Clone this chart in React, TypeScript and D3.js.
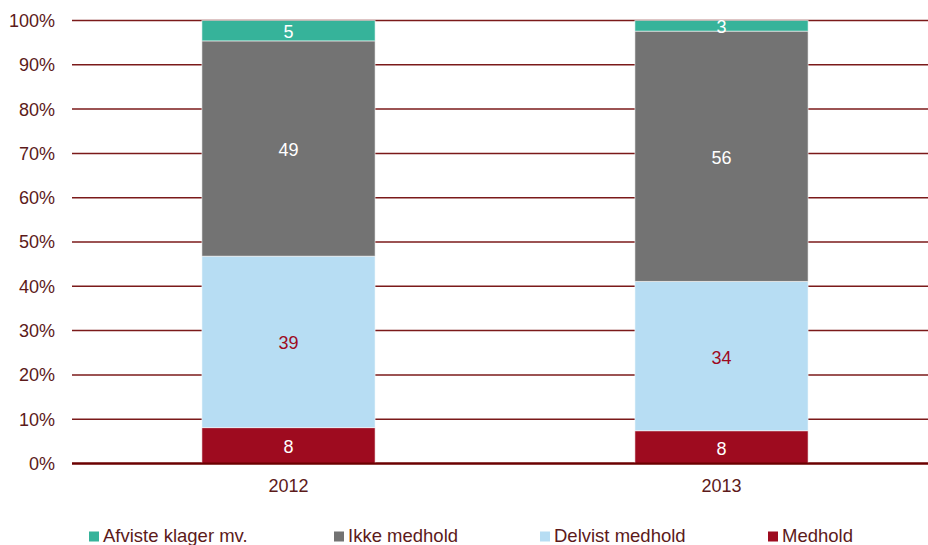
import React from "react";
import * as d3 from "d3";

const years = ["2012", "2013"];
const seriesNames = ["Medhold", "Delvist medhold", "Ikke medhold", "Afviste klager mv."];
const medhold = [8.1, 7.4];
const delvist = [38.7, 33.7];
const ikke = [48.6, 56.5];
const afviste = [4.6, 2.4];
const medholdLabels = ["8", "8"];
const delvistLabels = ["39", "34"];
const ikkeLabels = ["49", "56"];
const afvisteLabels = ["5", "3"];
const yTicks = [0, 10, 20, 30, 40, 50, 60, 70, 80, 90, 100];
const legendOrder = ["Afviste klager mv.", "Ikke medhold", "Delvist medhold", "Medhold"];

const colors: Record<string, string> = {
  "Medhold": "#9e0b1f",
  "Delvist medhold": "#b7ddf3",
  "Ikke medhold": "#737373",
  "Afviste klager mv.": "#36b39a",
};
const labelColors: Record<string, string> = {
  "Medhold": "#ffffff",
  "Delvist medhold": "#9e0b1f",
  "Ikke medhold": "#ffffff",
  "Afviste klager mv.": "#ffffff",
};

const W = 928;
const H = 545;
const textColor = "#5c1a1a";
const font = "'Liberation Sans', Arial, sans-serif";

export default function App() {
  const rows = years.map((y, i) => ({
    year: y,
    "Medhold": medhold[i],
    "Delvist medhold": delvist[i],
    "Ikke medhold": ikke[i],
    "Afviste klager mv.": afviste[i],
  }));
  const labels: Record<string, string[]> = {
    "Medhold": medholdLabels,
    "Delvist medhold": delvistLabels,
    "Ikke medhold": ikkeLabels,
    "Afviste klager mv.": afvisteLabels,
  };
  const stacked = d3.stack<any>().keys(seriesNames).offset(d3.stackOffsetExpand)(rows);

  const x = d3.scaleBand().domain(years).range([72, 938]).paddingInner(0.6).paddingOuter(0.3);
  const y = d3.scaleLinear().domain([0, 100]).range([463.5, 20.5]);

  const legendX = [89, 334, 540, 768];

  return (
    <svg width={W} height={H} style={{ position: "absolute", left: 0, top: 0 }} fontFamily={font}>
      {yTicks.map((t) => (
        <g key={t}>
          <line
            x1={72}
            x2={W}
            y1={y(t)}
            y2={y(t)}
            stroke={t === 0 ? "#6b0000" : "#7b1a1a"}
            strokeWidth={t === 0 ? 2 : 1.5}
          />
          <text x={55} y={y(t)} dy="0.36em" textAnchor="end" fontSize={18} fill={textColor}>
            {t}%
          </text>
        </g>
      ))}
      {stacked.map((s) => (
        <g key={s.key}>
          {s.map((d, i) => {
            const y0 = y(d[0] * 100);
            const y1 = y(d[1] * 100);
            return (
              <g key={i}>
                <rect
                  x={x(years[i])}
                  width={x.bandwidth()}
                  y={y1}
                  height={y0 - y1}
                  fill={colors[s.key]}
                  stroke="rgba(255,255,255,0.55)"
                  strokeWidth={1}
                />
                <text
                  x={(x(years[i]) as number) + x.bandwidth() / 2}
                  y={(y0 + y1) / 2}
                  dy="0.42em"
                  textAnchor="middle"
                  fontSize={18}
                  fill={labelColors[s.key]}
                >
                  {labels[s.key][i]}
                </text>
              </g>
            );
          })}
        </g>
      ))}
      <line x1={72} x2={W} y1={y(0)} y2={y(0)} stroke="#6b0000" strokeWidth={2} />
      {years.map((yr) => (
        <text
          key={yr}
          x={(x(yr) as number) + x.bandwidth() / 2}
          y={492}
          textAnchor="middle"
          fontSize={18}
          fill={textColor}
        >
          {yr}
        </text>
      ))}
      {legendOrder.map((name, i) => (
        <g key={name}>
          <rect x={legendX[i]} y={531.5} width={10} height={10} fill={colors[name]} />
          <text x={legendX[i] + 14} y={542} fontSize={18.5} fill={textColor}>
            {name}
          </text>
        </g>
      ))}
    </svg>
  );
}
